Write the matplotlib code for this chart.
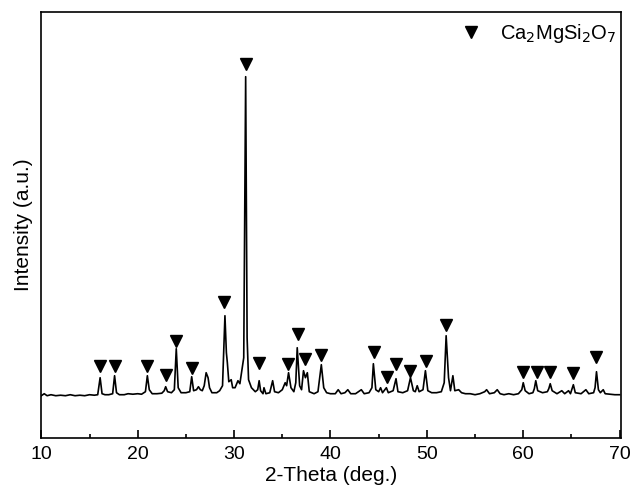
import matplotlib
matplotlib.use("Agg")
import matplotlib.pyplot as plt
from matplotlib.ticker import MultipleLocator

plt.rcParams['font.family'] = ['Liberation Sans', 'DejaVu Sans']

# XRD trace (2-theta, intensity a.u.)
two_theta = [
    10.0, 10.3, 10.6, 11.0, 11.5, 12.0, 12.5, 13.0, 13.5, 14.0, 14.5, 15.0, 15.5, 15.85,
    16.1, 16.3, 16.6, 17.0, 17.4,
    17.6, 17.8, 18.1, 18.6, 19.0, 19.5, 20.0, 20.4, 20.8,
    21.0, 21.2, 21.5, 22.0, 22.5, 22.75,
    22.9, 23.1, 23.5, 23.8,
    24.0, 24.2, 24.5, 25.0, 25.4,
    25.6, 25.8, 26.1, 26.3, 26.5, 26.7, 26.9,
    27.1, 27.3, 27.45, 27.7, 28.2, 28.5, 28.8,
    29.05, 29.2, 29.3, 29.45, 29.7, 29.85, 30.1, 30.4, 30.6, 30.8, 31.0,
    31.2, 31.35, 31.5, 31.8, 32.2, 32.45,
    32.6, 32.75, 33.0, 33.1, 33.3, 33.7, 34.0, 34.2, 34.6, 35.0, 35.3, 35.45,
    35.65, 35.9, 36.2, 36.4,
    36.55, 36.8, 37.0, 37.2, 37.4, 37.6, 37.8, 38.3, 38.7,
    39.05, 39.3, 39.6, 40.0, 40.5, 40.8, 41.1, 41.5, 41.8, 42.1, 42.6, 43.2, 43.5, 44.0, 44.3,
    44.45, 44.7, 45.0, 45.2, 45.4, 45.8, 46.0, 46.5,
    46.8, 47.0, 47.5, 48.0,
    48.3, 48.6, 48.8, 49.0, 49.2, 49.6,
    49.85, 50.1, 50.5, 51.0, 51.5, 51.8,
    52.0, 52.25, 52.45, 52.7, 52.9, 53.3, 53.6, 54.0, 54.5, 55.0, 55.5, 56.0, 56.2, 56.5,
    57.0, 57.3, 57.6, 58.0, 58.5, 59.0, 59.5, 59.85,
    60.0, 60.2, 60.6, 61.0, 61.15,
    61.3, 61.5, 62.0, 62.5, 62.65,
    62.8, 63.0, 63.5, 64.0, 64.3, 64.7, 64.9,
    65.2, 65.4, 66.0, 66.5, 66.8, 67.3, 67.45,
    67.6, 67.8, 68.0, 68.3, 68.5, 69.0, 69.5, 70.0,
]
intensity = [
    42, 44, 42, 43, 42, 42.5, 42, 43, 42, 42.5, 42, 43, 42.5, 43,
    60, 44, 43, 43, 44,
    62, 45, 43, 43, 44, 43.5, 44, 43.5, 46,
    62, 48, 44, 44, 44.5, 47,
    51, 46, 45, 48,
    89, 50, 45, 45, 46,
    61, 47, 48, 51, 48, 47, 52,
    65, 60, 50, 45, 45, 47, 52,
    122, 85, 75, 56, 58, 50, 50, 57, 54, 67, 80,
    361, 100, 58, 50, 46, 48,
    57, 47, 44, 50, 44, 45, 57, 46, 45, 48, 55, 52,
    65, 50, 46, 55,
    90, 52, 48, 67, 60, 65, 46, 44, 46,
    73, 50, 45, 44, 44, 48, 44, 45, 48, 44, 44, 48, 44, 45, 50,
    74, 48, 46, 50, 45, 50, 45, 47,
    59, 46, 45, 47,
    60, 47, 46, 52, 46, 48,
    67, 47, 45, 45, 46, 55,
    102, 60, 47, 62, 47, 48, 45, 44, 44, 43, 44, 46, 48, 44,
    45, 48, 44, 43, 44, 43, 44, 48,
    55, 47, 44, 45, 49,
    57, 47, 45, 46, 49,
    54, 47, 44, 47, 44, 47, 44,
    53, 45, 44, 48, 44, 45, 50,
    66, 48, 45, 48, 44, 43.5, 43, 43,
]

# Ca2MgSi2O7 reflection markers (triangles)
mark_x = [16.1, 17.6, 21.0, 22.9, 24.0, 25.6, 29.0, 31.2, 32.6, 35.6, 36.6, 37.4,
          39.0, 44.5, 45.9, 46.8, 48.3, 49.9, 52.0, 60.0, 61.4, 62.8, 65.2, 67.6]
mark_y = [72, 72, 72, 63, 97, 70, 136, 374, 75, 74, 104, 79,
          83, 86, 61, 74, 67, 77, 113, 66, 66, 66, 65, 81]

fig = plt.figure(figsize=(6.31, 4.90), dpi=100)
ax = fig.add_axes([0.0655, 0.1067, 0.918, 0.8688])

ax.plot(two_theta, intensity, color='black', lw=1.2)
ax.plot(mark_x, mark_y, linestyle='none', marker='v', color='black',
        markersize=9, label='Ca$_2$MgSi$_2$O$_7$')

ax.set_xlim(10, 70.1)
ax.set_ylim(0, 425.7)
ax.xaxis.set_major_locator(MultipleLocator(10))
ax.xaxis.set_minor_locator(MultipleLocator(5))
ax.tick_params(axis='x', which='major', direction='in', length=6, width=1.2,
               labelsize=14, pad=6)
ax.tick_params(axis='x', which='minor', direction='in', length=3, width=1.2)
ax.set_yticks([])
for s in ax.spines.values():
    s.set_linewidth(1.2)

ax.set_xlabel('2-Theta (deg.)', fontsize=15, labelpad=2)
ax.set_ylabel('Intensity (a.u.)', fontsize=15, labelpad=6)

ax.legend(loc='upper right', bbox_to_anchor=(1.0, 0.985), frameon=False,
          fontsize=14.5, handletextpad=0.45, borderaxespad=-0.2, markerscale=1.0)

fig.savefig('out.png', dpi=100)
